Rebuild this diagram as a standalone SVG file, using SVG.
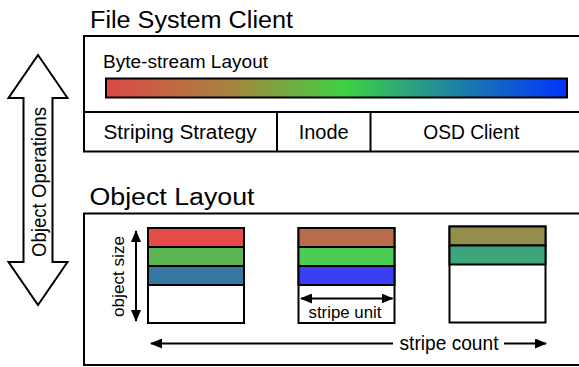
<svg xmlns="http://www.w3.org/2000/svg" width="579" height="367" viewBox="0 0 579 367">
<style>
text{font-family:"Liberation Sans",Arial,sans-serif;fill:#000}
.box{fill:#fff;stroke:#000;stroke-width:2}
.ln{stroke:#000;stroke-width:2;fill:none}
.stripe{stroke:#000;stroke-width:2}
.title{font-size:23px}
.cell{font-size:19.5px}
</style>
<defs>
<linearGradient id="grad" x1="0" y1="0" x2="1" y2="0">
<stop offset="0" stop-color="#dc4848"/>
<stop offset="0.27" stop-color="#a8843e"/>
<stop offset="0.52" stop-color="#3dd145"/>
<stop offset="0.75" stop-color="#1f85a0"/>
<stop offset="1" stop-color="#0033ff"/>
</linearGradient>
<marker id="ah" viewBox="0 0 12 10" refX="11" refY="5" markerWidth="12" markerHeight="10" markerUnits="userSpaceOnUse" orient="auto-start-reverse">
<path d="M0,0 L12,5 L0,10 Z" fill="#000"/>
</marker>
</defs>

<g id="file-system-client">
<text class="title" x="90" y="28" textLength="203" lengthAdjust="spacingAndGlyphs">File System Client</text>
<rect class="box" x="84" y="36" width="520" height="115.5"/>
<line class="ln" x1="84" y1="112" x2="590" y2="112"/>
<text x="103" y="68" font-size="17.5" textLength="165" lengthAdjust="spacingAndGlyphs">Byte-stream Layout</text>
<rect x="106" y="78.5" width="461" height="19" fill="url(#grad)" stroke="#000" stroke-width="2"/>
</g>

<g id="striping-strategy">
<text class="cell" x="180" y="138.5" text-anchor="middle" textLength="153" lengthAdjust="spacingAndGlyphs">Striping Strategy</text>
</g>
<g id="inode">
<line class="ln" x1="277" y1="112" x2="277" y2="151.5"/>
<text class="cell" x="323.7" y="138.5" text-anchor="middle" textLength="50" lengthAdjust="spacingAndGlyphs">Inode</text>
</g>
<g id="osd-client">
<line class="ln" x1="370.5" y1="112" x2="370.5" y2="151.5"/>
<text class="cell" x="471.3" y="138.5" text-anchor="middle" textLength="96" lengthAdjust="spacingAndGlyphs">OSD Client</text>
</g>

<g id="object-operations">
<path class="box" d="M38,55 L67.5,98 L52.5,98 L52.5,262 L67.5,262 L38,305 L8.5,262 L23.5,262 L23.5,98 L8.5,98 Z"/>
<text font-size="19" text-anchor="middle" transform="translate(45.5,182) rotate(-90) scale(1,1.1)" textLength="150" lengthAdjust="spacingAndGlyphs">Object Operations</text>
</g>

<g id="object-layout">
<text class="title" x="89.5" y="205" textLength="165" lengthAdjust="spacingAndGlyphs">Object Layout</text>
<rect class="box" x="84" y="213.5" width="520" height="151.5"/>
</g>

<g id="object-1">
<rect class="box" x="148" y="228" width="96" height="95"/>
<rect class="stripe" x="148" y="228" width="96" height="19" fill="#e54b47"/>
<rect class="stripe" x="148" y="247" width="96" height="19" fill="#5ab552"/>
<rect class="stripe" x="148" y="266" width="96" height="19" fill="#3778a3"/>
</g>

<g id="object-2">
<rect class="box" x="298.5" y="228" width="96" height="95"/>
<rect class="stripe" x="298.5" y="228" width="96" height="19" fill="#b86c4a"/>
<rect class="stripe" x="298.5" y="247" width="96" height="19" fill="#4ccc52"/>
<rect class="stripe" x="298.5" y="266" width="96" height="19" fill="#3a3ef5"/>
</g>

<g id="object-3">
<rect class="box" x="449.5" y="226.5" width="96" height="96"/>
<rect class="stripe" x="449.5" y="226.5" width="96" height="19" fill="#948e4c"/>
<rect class="stripe" x="449.5" y="245.5" width="96" height="19" fill="#3da57c"/>
</g>

<g id="connectors">
<line class="ln" x1="136" y1="231" x2="136" y2="321" marker-start="url(#ah)" marker-end="url(#ah)"/>
<line class="ln" x1="301" y1="298.5" x2="392.5" y2="298.5" marker-start="url(#ah)" marker-end="url(#ah)"/>
<line class="ln" x1="151" y1="343.5" x2="393" y2="343.5" marker-start="url(#ah)"/>
<line class="ln" x1="504" y1="343.5" x2="546" y2="343.5" marker-end="url(#ah)"/>
</g>

<g id="labels">
<text font-size="17" text-anchor="middle" transform="translate(123.5,276.5) rotate(-90)" textLength="81" lengthAdjust="spacingAndGlyphs">object size</text>
<text x="345" y="317.5" font-size="17" text-anchor="middle" textLength="73" lengthAdjust="spacingAndGlyphs">stripe unit</text>
<text x="449" y="350" font-size="19.5" text-anchor="middle" textLength="99" lengthAdjust="spacingAndGlyphs">stripe count</text>
</g>
</svg>
